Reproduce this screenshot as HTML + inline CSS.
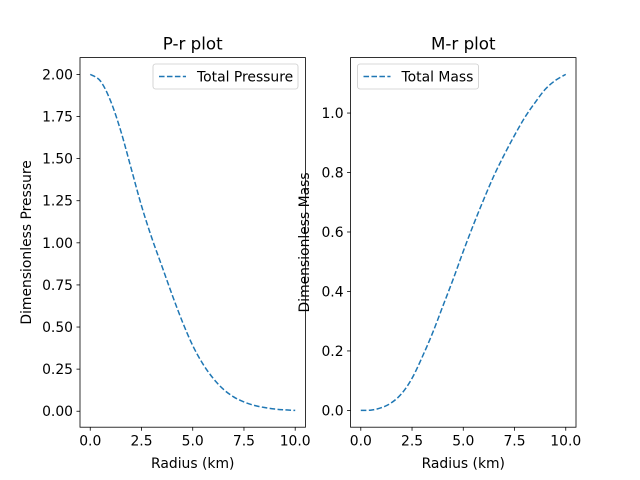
<!DOCTYPE html>
<html><head><meta charset="utf-8"><style>
body{margin:0;background:#fff}
svg{display:block;font-family:"DejaVu Sans","Liberation Sans",sans-serif}
</style></head><body>
<svg id="c" width="640" height="480" viewBox="0 0 640 480"></svg>
<script>
const radius=[0,0.5,1,1.5,2,2.5,3,3.5,4,4.5,5,5.5,6,6.5,7,7.5,8,8.5,9,9.5,10];
const pressure=[2.00,1.96,1.84,1.66,1.44,1.22,1.03,0.86,0.69,0.53,0.39,0.28,0.195,0.13,0.085,0.055,0.035,0.022,0.013,0.008,0.005];
const mass=[0,0.001,0.009,0.026,0.057,0.108,0.18,0.26,0.35,0.44,0.535,0.625,0.71,0.79,0.86,0.925,0.985,1.035,1.08,1.11,1.13];
const xTicks=[0,2.5,5,7.5,10];
const xTickLabels=["0.0","2.5","5.0","7.5","10.0"];
const pTicks=[0,0.25,0.5,0.75,1,1.25,1.5,1.75,2];
const pTickLabels=["0.00","0.25","0.50","0.75","1.00","1.25","1.50","1.75","2.00"];
const mTicks=[0,0.2,0.4,0.6,0.8,1.0];
const mTickLabels=["0.0","0.2","0.4","0.6","0.8","1.0"];
const NS="http://www.w3.org/2000/svg";
const svg=document.getElementById('c');
function mk(t,a,p){const e=document.createElementNS(NS,t);for(const k in a)e.setAttribute(k,a[k]);(p||svg).appendChild(e);return e;}
function smooth(pts){
  let d='M'+pts[0][0]+','+pts[0][1];
  for(let i=0;i<pts.length-1;i++){
    const p0=pts[Math.max(0,i-1)],p1=pts[i],p2=pts[i+1],p3=pts[Math.min(pts.length-1,i+2)];
    const c1=[p1[0]+(p2[0]-p0[0])/6,p1[1]+(p2[1]-p0[1])/6];
    const c2=[p2[0]-(p3[0]-p1[0])/6,p2[1]-(p3[1]-p1[1])/6];
    d+=' C'+c1[0]+','+c1[1]+' '+c2[0]+','+c2[1]+' '+p2[0]+','+p2[1];
  }
  return d;
}
function panel(o){
  const L=o.L,R=o.R,T=57.6,B=427.2;
  const xmin=Math.min(...o.x),xmax=Math.max(...o.x),ymin=Math.min(...o.y),ymax=Math.max(...o.y);
  const xm=(xmax-xmin)*0.05,ym=(ymax-ymin)*0.05;
  const sx=v=>L+(v-(xmin-xm))/((xmax+xm)-(xmin-xm))*(R-L);
  const sy=v=>B-(v-(ymin-ym))/((ymax+ym)-(ymin-ym))*(B-T);
  const g=mk('g',{});
  
  
  const line=mk('path',{d:smooth(o.x.map((v,i)=>[sx(v),sy(o.y[i])])),fill:'none',stroke:'#1f77b4','stroke-width':1.5,'stroke-dasharray':'5.55,2.4'},g);
  
  
  const frame=mk('rect',{x:L,y:T,width:R-L,height:B-T,fill:'none',stroke:'#000','stroke-width':0.8},g);
  
  
  o.xt.forEach((v,i)=>{const x=sx(v);mk('line',{x1:x,x2:x,y1:B,y2:B+3.5,stroke:'#000','stroke-width':0.8},g);
    const t=mk('text',{x:x,y:B+18.5,'font-size':13.9,'text-anchor':'middle'},g);t.textContent=o.xl[i];
    });
  o.yt.forEach((v,i)=>{const y=sy(v);mk('line',{x1:L,x2:L-3.5,y1:y,y2:y,stroke:'#000','stroke-width':0.8},g);
    const t=mk('text',{x:L-7,y:y+5,'font-size':13.9,'text-anchor':'end'},g);t.textContent=o.yl[i];
    });
  const ti=mk('text',{x:(L+R)/2,y:T-8,'font-size':16.7,'text-anchor':'middle'},g);ti.textContent=o.title;
  
  const xa=mk('text',{x:(L+R)/2,y:468,'font-size':13.9,'text-anchor':'middle'},g);xa.textContent='Radius (km)';
  
  const ya=mk('text',{x:0,y:0,'font-size':13.9,'text-anchor':'middle',transform:`translate(${o.yx},${(T+B)/2}) rotate(-90)`},g);ya.textContent=o.ylab;
  
  const lg=mk('g',{},g);
  
  mk('rect',{x:o.lx,y:64,width:o.lw,height:25,rx:2.5,fill:'#fff',stroke:'#ccc','stroke-width':0.8},lg);
  mk('line',{x1:o.lx+6,x2:o.lx+33,y1:76.5,y2:76.5,stroke:'#1f77b4','stroke-width':1.5,'stroke-dasharray':'5.55,2.4'},lg);
  const lt=mk('text',{x:o.lx+44,y:81.5,'font-size':13.9},lg);lt.textContent=o.series==='pressure-line'?'Total Pressure':'Total Mass';
}
panel({name:'pressure-panel',L:80,R:305.45,x:radius,y:pressure,xt:xTicks,xl:xTickLabels,yt:pTicks,yl:pTickLabels,title:'P-r plot',ylab:'Dimensionless Pressure',yx:31,lx:153,lw:145,series:'pressure-line'});
panel({name:'mass-panel',L:350.55,R:576,x:radius,y:mass,xt:xTicks,xl:xTickLabels,yt:mTicks,yl:mTickLabels,title:'M-r plot',ylab:'Dimensionless Mass',yx:309,lx:357.5,lw:121,series:'mass-line'});
</script>
</body></html>
